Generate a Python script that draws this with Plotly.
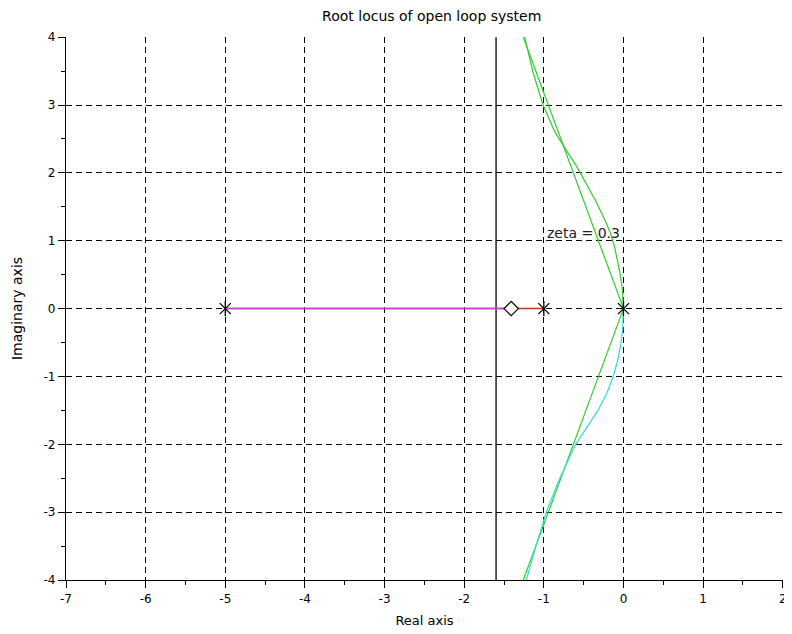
import plotly.graph_objects as go
import numpy as np

# ---- data ----
poles_x = [-5.0, -1.0, 0.0]
poles_y = [0.0, 0.0, 0.0]
zero_x = [-1.41]
zero_y = [0.0]

# real-axis branches
branch_mag_x = [-5.0, -1.41]
branch_mag_y = [0.0, 0.0]
branch_red_x = [-1.41, -1.0]
branch_red_y = [0.0, 0.0]

# complex branches
upper_y = [0.0, 0.3, 0.56, 0.9, 1.1, 1.3, 1.59, 1.89, 2.1, 2.28, 2.6, 3.0, 3.5, 4.0]
upper_x = [0.0, -0.015, -0.05, -0.11, -0.16, -0.23, -0.35, -0.49, -0.59, -0.69, -0.86, -1.01, -1.14, -1.24]
lower_y = [0.0, -0.3, -0.5, -0.75, -1.0, -1.25, -1.5, -1.75, -2.0, -2.5, -3.0, -3.5, -4.0]
lower_x = [0.0, -0.01, -0.03, -0.07, -0.13, -0.21, -0.32, -0.46, -0.60, -0.80, -0.97, -1.10, -1.22]

# damping-ratio line
zeta = 0.3
zeta_y_end = 4.0

# vertical reference line
vline_x = -1.6

title = "Root locus of open loop system"
xlabel = "Real axis"
ylabel = "Imaginary axis"
xticks = [-7, -6, -5, -4, -3, -2, -1, 0, 1, 2]
yticks = [-4, -3, -2, -1, 0, 1, 2, 3, 4]

FONT = "DejaVu Sans"
GREEN = "#33cc33"
CYAN = "#33dddd"
MAG = "#cc44cc"
RED = "#b83a2a"

fig = go.Figure()

# zeta lines
zx = -zeta_y_end / np.tan(np.arccos(zeta))
fig.add_trace(go.Scatter(x=[0, zx], y=[0, zeta_y_end], mode="lines",
                         line=dict(color=GREEN, width=1.2), showlegend=False))
fig.add_trace(go.Scatter(x=[0, zx], y=[0, -zeta_y_end], mode="lines",
                         line=dict(color=GREEN, width=1.2), showlegend=False))

# vertical line
fig.add_trace(go.Scatter(x=[vline_x, vline_x], y=[-4, 4], mode="lines",
                         line=dict(color="black", width=1.3), showlegend=False))

# branches
fig.add_trace(go.Scatter(x=upper_x, y=upper_y, mode="lines",
                         line=dict(color=GREEN, width=1.2), showlegend=False))
fig.add_trace(go.Scatter(x=lower_x, y=lower_y, mode="lines",
                         line=dict(color=CYAN, width=1.2), showlegend=False))
fig.add_trace(go.Scatter(x=branch_mag_x, y=branch_mag_y, mode="lines",
                         line=dict(color=MAG, width=2), showlegend=False))
fig.add_trace(go.Scatter(x=branch_red_x, y=branch_red_y, mode="lines",
                         line=dict(color=RED, width=1.5), showlegend=False))

# poles (asterisk) and zero (diamond)
fig.add_trace(go.Scatter(x=poles_x, y=poles_y, mode="markers",
                         marker=dict(symbol="x-thin-open", size=11, color="black",
                                     line=dict(color="black", width=1.3)), showlegend=False))
fig.add_trace(go.Scatter(x=poles_x, y=poles_y, mode="markers",
                         marker=dict(symbol="line-ns-open", size=11, color="black",
                                     line=dict(color="black", width=1.3)), showlegend=False))
fig.add_trace(go.Scatter(x=zero_x, y=zero_y, mode="markers",
                         marker=dict(symbol="diamond", size=11, color="white",
                                     line=dict(color="black", width=1.2)), showlegend=False))

fig.add_annotation(x=-0.98, y=1.11, text="zeta = 0.3", showarrow=False,
                   xanchor="left", yanchor="middle",
                   font=dict(family=FONT, size=14, color="#222222"))

axis_common = dict(showline=True, linecolor="black", linewidth=1.3,
                   showgrid=True, gridcolor="black", gridwidth=1, griddash="6px,4px",
                   zeroline=False, ticks="outside", ticklen=7, tickcolor="black",
                   tickwidth=1.3, mirror=False, automargin=False,
                   tickfont=dict(family=FONT, size=12, color="black"),
                   minor=dict(ticks="outside", ticklen=4, tickcolor="black", dtick=0.5,
                              showgrid=False, tickwidth=1.3))

fig.update_xaxes(range=[-7, 2.003], tickvals=xticks, ticktext=[str(v) for v in xticks],
                 title=dict(text=xlabel, font=dict(family=FONT, size=13, color="black"), standoff=11),
                 **axis_common)
fig.update_yaxes(range=[-4, 4.003], tickvals=yticks, ticktext=[str(v) for v in yticks],
                 title=dict(text=ylabel, font=dict(family=FONT, size=14, color="black"), standoff=17),
                 **axis_common)

# page body has an 8px margin: compensate so the plot area lands where the reference has it
fig.update_layout(
    width=792, height=634,
    margin=dict(l=58, r=17, t=29, b=62),
    paper_bgcolor="white", plot_bgcolor="white",
    title=dict(text=title, x=0.535, xanchor="center", y=0.988, yanchor="middle",
               font=dict(family=FONT, size=14, color="black"), automargin=False),
)

fig.write_html("out.html")
